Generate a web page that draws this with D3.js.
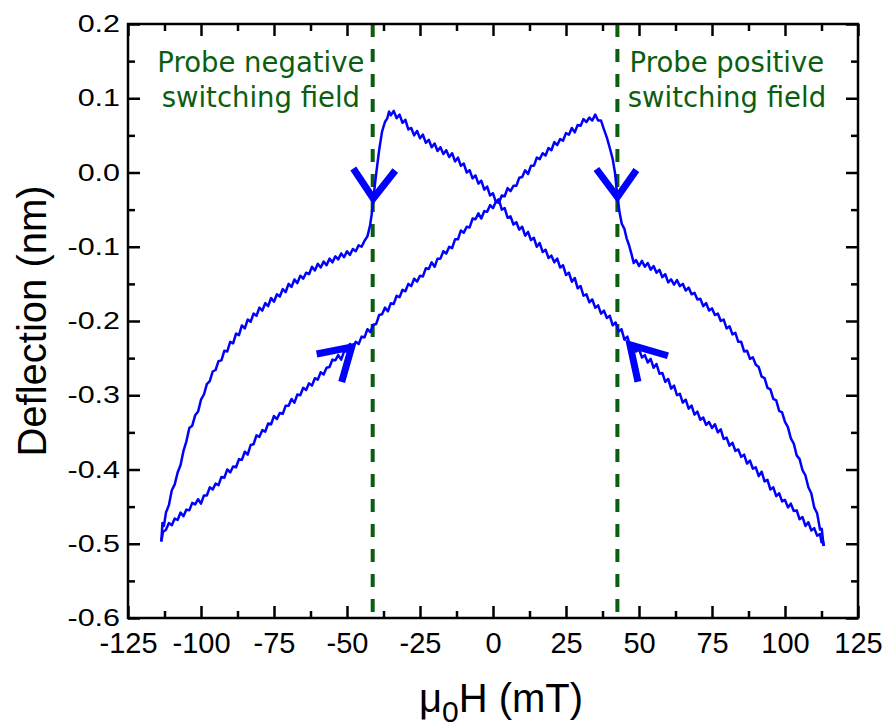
<!DOCTYPE html>
<html>
<head>
<meta charset="utf-8">
<script src="https://cdn.jsdelivr.net/npm/d3@7"></script>
<style>
  html, body { margin: 0; padding: 0; background: #fff; }
  svg { display: block; }
  .tick text { font-family: "Liberation Sans", Arial, sans-serif; fill: #000; }
</style>
</head>
<body>
<div id="chart"></div>
<script>
// Field sweep from -113 mT to +113 mT: [field (mT), deflection (nm)]
const sweepUp = [
  [-113.6,-0.497],[-113,-0.484],[-112,-0.481],[-111,-0.472],[-110,-0.475],[-109,-0.466],[-108,-0.468],[-107,-0.458],
  [-106,-0.463],[-105,-0.454],[-104,-0.455],[-103,-0.445],[-102,-0.447],[-101,-0.440],[-100,-0.446],[-99,-0.435],
  [-98,-0.435],[-97,-0.424],[-96,-0.427],[-95,-0.419],[-94,-0.421],[-93,-0.410],[-92,-0.411],[-91,-0.400],
  [-90,-0.404],[-89,-0.396],[-88,-0.397],[-87,-0.386],[-86,-0.387],[-85,-0.376],[-84,-0.380],[-83,-0.367],
  [-82,-0.366],[-81,-0.354],[-80,-0.356],[-79,-0.347],[-78,-0.349],[-77,-0.338],[-76,-0.339],[-75,-0.328],
  [-74,-0.332],[-73,-0.324],[-72,-0.325],[-71,-0.314],[-70,-0.314],[-69,-0.305],[-68,-0.310],[-67,-0.299],
  [-66,-0.300],[-65,-0.290],[-64,-0.293],[-63,-0.284],[-62,-0.287],[-61,-0.277],[-60,-0.279],[-59,-0.269],
  [-58,-0.272],[-57,-0.263],[-56,-0.262],[-55,-0.252],[-54,-0.253],[-53,-0.246],[-52,-0.252],[-51,-0.241],
  [-50,-0.241],[-49,-0.231],[-48,-0.235],[-47,-0.228],[-46,-0.231],[-45,-0.221],[-44,-0.222],[-43,-0.211],
  [-42,-0.215],[-41,-0.205],[-40,-0.204],[-39,-0.192],[-38,-0.191],[-37,-0.182],[-36,-0.187],[-35,-0.176],
  [-34,-0.177],[-33,-0.166],[-32,-0.168],[-31,-0.158],[-30,-0.160],[-29,-0.150],[-28,-0.153],[-27,-0.143],
  [-26,-0.147],[-25,-0.139],[-24,-0.140],[-23,-0.129],[-22,-0.130],[-21,-0.121],[-20,-0.127],[-19,-0.116],
  [-18,-0.116],[-17,-0.106],[-16,-0.109],[-15,-0.100],[-14,-0.102],[-13,-0.090],[-12,-0.090],[-11,-0.078],
  [-10,-0.081],[-9,-0.073],[-8,-0.074],[-7,-0.062],[-6,-0.063],[-5,-0.055],[-4,-0.062],[-3,-0.052],
  [-2,-0.053],[-1,-0.044],[0,-0.048],[1,-0.039],[2,-0.041],[3,-0.031],[4,-0.032],[5,-0.021],
  [6,-0.025],[7,-0.018],[8,-0.018],[9,-0.007],[10,-0.006],[11,0.003],[12,-0.002],[13,0.009],
  [14,0.009],[15,0.020],[16,0.018],[17,0.026],[18,0.023],[19,0.033],[20,0.030],[21,0.041],
  [22,0.037],[23,0.045],[24,0.043],[25,0.053],[26,0.051],[27,0.060],[28,0.054],[29,0.064],
  [30,0.063],[31,0.072],[32,0.068],[33,0.074],[34,0.070],[35,0.078],[36,0.070],[37,0.070],
  [38,0.058],[39,0.047],[40,0.033],[41,0.018],[41.8,-0.001],[42.6,-0.033],[43.4,-0.055],[44.1,-0.069],
  [45,-0.076],[45.8,-0.089],[46.6,-0.098],[47.5,-0.111],[48.2,-0.122],[49,-0.118],[50,-0.126],[51,-0.119],
  [52,-0.127],[53,-0.122],[54,-0.131],[55,-0.126],[56,-0.135],[57,-0.131],[58,-0.141],[59,-0.137],
  [60,-0.148],[61,-0.144],[62,-0.151],[63,-0.145],[64,-0.153],[65,-0.150],[66,-0.159],[67,-0.155],
  [68,-0.164],[69,-0.162],[70,-0.171],[71,-0.170],[72,-0.180],[73,-0.176],[74,-0.186],[75,-0.183],
  [76,-0.192],[77,-0.190],[78,-0.200],[79,-0.198],[80,-0.210],[81,-0.207],[82,-0.218],[83,-0.216],
  [84,-0.228],[85,-0.228],[86,-0.241],[87,-0.240],[88,-0.251],[89,-0.249],[90,-0.259],[91,-0.262],
  [92,-0.275],[93,-0.277],[94,-0.290],[95,-0.292],[96,-0.305],[97,-0.307],[98,-0.321],[99,-0.323],
  [100,-0.336],[101,-0.343],[102,-0.358],[103,-0.365],[104,-0.381],[105,-0.386],[106,-0.401],[107,-0.408],
  [108,-0.424],[109,-0.432],[110,-0.451],[111,-0.459],[112,-0.481],[112.6,-0.480],[113.2,-0.503]
];

// Field sweep back from +113 mT to -113 mT
const sweepDown = [
  [113.3,-0.503],[113,-0.496],[112.5,-0.498],[112,-0.487],[111,-0.489],[110,-0.479],[109,-0.482],[108,-0.471],
  [107,-0.476],[106,-0.464],[105,-0.467],[104,-0.455],[103,-0.456],[102,-0.446],[101,-0.451],[100,-0.441],
  [99,-0.443],[98,-0.432],[97,-0.436],[96,-0.424],[95,-0.427],[94,-0.414],[93,-0.416],[92,-0.403],
  [91,-0.409],[90,-0.397],[89,-0.399],[88,-0.388],[87,-0.392],[86,-0.380],[85,-0.383],[84,-0.373],
  [83,-0.375],[82,-0.364],[81,-0.368],[80,-0.357],[79,-0.359],[78,-0.346],[77,-0.350],[76,-0.339],
  [75,-0.344],[74,-0.336],[73,-0.340],[72,-0.330],[71,-0.333],[70,-0.322],[69,-0.326],[68,-0.314],
  [67,-0.318],[66,-0.306],[65,-0.310],[64,-0.298],[63,-0.300],[62,-0.287],[61,-0.291],[60,-0.278],
  [59,-0.282],[58,-0.270],[57,-0.271],[56,-0.258],[55,-0.263],[54,-0.251],[53,-0.256],[52,-0.246],
  [51,-0.249],[50,-0.238],[49,-0.241],[48,-0.231],[47,-0.234],[46,-0.221],[45,-0.225],[44,-0.211],
  [43,-0.214],[42,-0.202],[41,-0.206],[40,-0.193],[39,-0.196],[38,-0.186],[37,-0.190],[36,-0.179],
  [35,-0.182],[34,-0.171],[33,-0.175],[32,-0.164],[31,-0.166],[30,-0.153],[29,-0.156],[28,-0.142],
  [27,-0.147],[26,-0.135],[25,-0.138],[24,-0.125],[23,-0.128],[22,-0.116],[21,-0.121],[20,-0.112],
  [19,-0.115],[18,-0.104],[17,-0.107],[16,-0.095],[15,-0.100],[14,-0.088],[13,-0.091],[12,-0.080],
  [11,-0.085],[10,-0.073],[9,-0.077],[8,-0.067],[7,-0.070],[6,-0.059],[5,-0.061],[4,-0.048],
  [3,-0.050],[2,-0.036],[1,-0.040],[0,-0.028],[-1,-0.031],[-2,-0.019],[-3,-0.023],[-4,-0.011],
  [-5,-0.015],[-6,-0.004],[-7,-0.008],[-8,0.003],[-9,0.000],[-10,0.012],[-11,0.009],[-12,0.020],
  [-13,0.015],[-14,0.026],[-15,0.021],[-16,0.030],[-17,0.025],[-18,0.034],[-19,0.029],[-20,0.039],
  [-21,0.034],[-22,0.044],[-23,0.040],[-24,0.051],[-25,0.046],[-26,0.056],[-27,0.050],[-28,0.060],
  [-29,0.058],[-30,0.071],[-31,0.067],[-32,0.078],[-33,0.073],[-34,0.083],[-35,0.077],[-35.6,0.082],
  [-36.2,0.073],[-37,0.068],[-38,0.055],[-39,0.030],[-39.8,0.005],[-40.4,-0.015],[-41,-0.037],[-41.6,-0.058],
  [-42.1,-0.071],[-43,-0.086],[-44,-0.092],[-45,-0.100],[-46,-0.098],[-47,-0.106],[-48,-0.103],[-49,-0.111],
  [-50,-0.106],[-51,-0.114],[-52,-0.109],[-53,-0.117],[-54,-0.113],[-55,-0.121],[-56,-0.116],[-57,-0.125],
  [-58,-0.120],[-59,-0.128],[-60,-0.123],[-61,-0.132],[-62,-0.127],[-63,-0.137],[-64,-0.135],[-65,-0.143],
  [-66,-0.139],[-67,-0.149],[-68,-0.144],[-69,-0.154],[-70,-0.150],[-71,-0.161],[-72,-0.157],[-73,-0.167],
  [-74,-0.164],[-75,-0.174],[-76,-0.169],[-77,-0.180],[-78,-0.176],[-79,-0.186],[-80,-0.182],[-81,-0.193],
  [-82,-0.190],[-83,-0.201],[-84,-0.198],[-85,-0.210],[-86,-0.206],[-87,-0.219],[-88,-0.217],[-89,-0.230],
  [-90,-0.228],[-91,-0.241],[-92,-0.240],[-93,-0.253],[-94,-0.254],[-95,-0.266],[-96,-0.268],[-97,-0.281],
  [-98,-0.285],[-99,-0.299],[-100,-0.306],[-101,-0.322],[-102,-0.327],[-103,-0.341],[-104,-0.344],[-105,-0.362],
  [-106,-0.375],[-107,-0.394],[-108,-0.404],[-109,-0.420],[-110,-0.428],[-111,-0.448],[-112,-0.458],[-112.7,-0.476],
  [-113.2,-0.472],[-113.6,-0.497]
];

// Probe switching fields (mT)
const switchingFields = [-41.2, 42.6];

const xTicks = [-125, -100, -75, -50, -25, 0, 25, 50, 75, 100, 125];
const xMinorTicks = [-112.5, -87.5, -62.5, -37.5, -12.5, 12.5, 37.5, 62.5, 87.5, 112.5];
const yTicks = [0.2, 0.1, 0.0, -0.1, -0.2, -0.3, -0.4, -0.5, -0.6];
const yMinorTicks = [0.15, 0.05, -0.05, -0.15, -0.25, -0.35, -0.45, -0.55];

// Direction arrowheads: tip [field, deflection] plus the two arm directions
const sweepArrows = [
  { tip: [-41.0, -0.035], arms: [[-20, -30], [22, -28]] },
  { tip: [42.6, -0.033], arms: [[-21, -28], [19, -27]] },
  { tip: [-48.4, -0.235], arms: [[-35, 7], [-10, 35]] },
  { tip: [46.9, -0.232], arms: [[38, 11], [8, 37]] }
];

const annotations = [
  { x: -79.5, lines: ['Probe negative', 'switching field'] },
  { x: 80.1, lines: ['Probe positive', 'switching field'] }
];

const width = 890, height = 727;
const margin = { top: 24, right: 32, bottom: 109, left: 128 };
const innerW = width - margin.left - margin.right;
const innerH = height - margin.top - margin.bottom;

const GREEN = '#0b5e10';
const BLUE = '#0000ff';

// plain hyphen for negative tick labels, as in the original figure
const hyphen = f => d => f(d).replace('\u2212', '-');

const svg = d3.select('#chart').append('svg')
  .attr('width', width)
  .attr('height', height);

const g = svg.append('g')
  .attr('transform', `translate(${margin.left},${margin.top})`);

const x = d3.scaleLinear().domain([-125, 125]).range([0, innerW]);
const y = d3.scaleLinear().domain([-0.6, 0.2]).range([innerH, 0]);

// Dashed switching-field lines
g.selectAll('.switch-line')
  .data(switchingFields)
  .enter().append('line')
  .attr('class', 'switch-line')
  .attr('x1', d => x(d)).attr('x2', d => x(d))
  .attr('y1', 0).attr('y2', innerH)
  .attr('stroke', GREEN)
  .attr('stroke-width', 4)
  .attr('stroke-dasharray', '13,12');

// Loop curves
const line = d3.line()
  .x(d => x(d[0]))
  .y(d => y(d[1]));

g.selectAll('.sweep')
  .data([sweepUp, sweepDown])
  .enter().append('path')
  .attr('class', 'sweep')
  .attr('d', line)
  .attr('fill', 'none')
  .attr('stroke', BLUE)
  .attr('stroke-width', 2.5)
  .attr('stroke-linejoin', 'round');

// Arrowheads
g.selectAll('.sweep-arrow')
  .data(sweepArrows)
  .enter().append('path')
  .attr('class', 'sweep-arrow')
  .attr('d', d => {
    const tx = x(d.tip[0]), ty = y(d.tip[1]);
    return `M${tx + d.arms[0][0]},${ty + d.arms[0][1]}L${tx},${ty}L${tx + d.arms[1][0]},${ty + d.arms[1][1]}`;
  })
  .attr('fill', 'none')
  .attr('stroke', BLUE)
  .attr('stroke-width', 7)
  .attr('stroke-linejoin', 'miter');

// Annotations
const ann = g.selectAll('.annotation')
  .data(annotations)
  .enter().append('text')
  .attr('class', 'annotation')
  .attr('text-anchor', 'middle')
  .attr('font-family', '"DejaVu Sans", Verdana, sans-serif')
  .attr('font-size', 27.5)
  .attr('fill', GREEN);

ann.selectAll('tspan')
  .data(d => d.lines.map(l => ({ x: d.x, text: l })))
  .enter().append('tspan')
  .attr('x', d => x(d.x))
  .attr('y', (d, i) => y(0.135) + i * 35)
  .text(d => d.text);

// Axes with inward ticks on all four sides
function styleAxis(sel) {
  sel.select('.domain').remove();
  sel.selectAll('.tick line').attr('stroke', '#000').attr('stroke-width', 2.5);
}

g.append('g')
  .attr('transform', `translate(0,${innerH})`)
  .call(d3.axisBottom(x).tickValues(xTicks).tickSize(-12).tickPadding(14).tickFormat(hyphen(d3.format('d'))))
  .call(styleAxis)
  .selectAll('text').attr('font-size', 29);

g.append('g')
  .attr('transform', `translate(0,${innerH})`)
  .call(d3.axisBottom(x).tickValues(xMinorTicks).tickSize(-7).tickFormat(''))
  .call(styleAxis);

g.append('g')
  .call(d3.axisTop(x).tickValues(xTicks).tickSize(-12).tickFormat(''))
  .call(styleAxis);

g.append('g')
  .call(d3.axisTop(x).tickValues(xMinorTicks).tickSize(-7).tickFormat(''))
  .call(styleAxis);

// y labels in the original are drawn wide and short
const yStretch = 1.27;
g.append('g')
  .call(d3.axisLeft(y).tickValues(yTicks).tickSize(-12).tickFormat(hyphen(d3.format('.1f'))))
  .call(styleAxis)
  .selectAll('text')
  .attr('font-size', 24)
  .attr('x', -8 / yStretch)
  .attr('transform', `scale(${yStretch},1)`);

g.append('g')
  .call(d3.axisLeft(y).tickValues(yMinorTicks).tickSize(-7).tickFormat(''))
  .call(styleAxis);

g.append('g')
  .attr('transform', `translate(${innerW},0)`)
  .call(d3.axisRight(y).tickValues(yTicks).tickSize(-12).tickFormat(''))
  .call(styleAxis);

g.append('g')
  .attr('transform', `translate(${innerW},0)`)
  .call(d3.axisRight(y).tickValues(yMinorTicks).tickSize(-7).tickFormat(''))
  .call(styleAxis);

// Frame
g.append('rect')
  .attr('width', innerW)
  .attr('height', innerH)
  .attr('fill', 'none')
  .attr('stroke', '#000')
  .attr('stroke-width', 2.5);

// Axis titles
svg.append('text')
  .attr('transform', `translate(46,${margin.top + innerH / 2}) rotate(-90)`)
  .attr('text-anchor', 'middle')
  .attr('font-family', '"Liberation Sans", Arial, sans-serif')
  .attr('font-size', 40)
  .text('Deflection (nm)');

const xt = svg.append('text')
  .attr('x', 501)
  .attr('y', 712)
  .attr('text-anchor', 'middle')
  .attr('font-family', '"Liberation Sans", Arial, sans-serif')
  .attr('font-size', 40);
xt.append('tspan').text('\u03bc');
xt.append('tspan').attr('font-size', 30).attr('dy', 10).text('0');
xt.append('tspan').attr('dy', -10).text('H (mT)');
</script>
</body>
</html>
